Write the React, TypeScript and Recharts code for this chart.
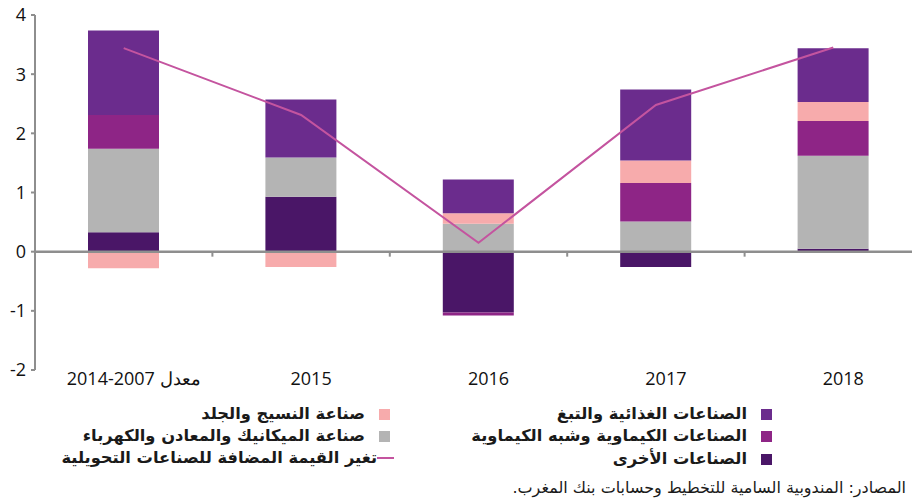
import React from "react";
import { ComposedChart, Bar, Line, XAxis, YAxis, ReferenceLine } from "recharts";

const categories = ["2014-2007 معدل", "2015", "2016", "2017", "2018"];
const otherInd = [0.33, 0.93, -1.03, -0.26, 0.05];
const mechanical = [1.41, 0.66, 0.47, 0.51, 1.57];
const chemical = [0.57, 0, -0.05, 0.65, 0.59];
const textile = [-0.28, -0.26, 0.18, 0.38, 0.32];
const food = [1.43, 0.98, 0.57, 1.2, 0.91];
const valueAdded = [3.44, 2.31, 0.15, 2.48, 3.45];
const yTicks = [-2, -1, 0, 1, 2, 3, 4];

const names = {
  food: "الصناعات الغذائية والتبغ",
  chemical: "الصناعات الكيماوية وشبه الكيماوية",
  other: "الصناعات الأخرى",
  textile: "صناعة النسيج والجلد",
  mechanical: "صناعة الميكانيك والمعادن والكهرباء",
  line: "تغير القيمة المضافة للصناعات التحويلية",
};
const source = "المصادر: المندوبية السامية للتخطيط وحسابات بنك المغرب.";

const colors = {
  food: "#6B2C8D",
  chemical: "#8E2586",
  mechanical: "#B4B4B4",
  textile: "#F7ABAC",
  other: "#4A1667",
  line: "#C4549F",
  axis: "#8E8E8E",
};

const data = categories.map((c, i) => ({
  cat: c,
  other: otherInd[i],
  mechanical: mechanical[i],
  chemical: chemical[i],
  textile: textile[i],
  food: food[i],
  va: valueAdded[i],
}));

const ZeroLine = (props: any) => {
  const { x1, y1, x2, y2 } = props;
  const n = categories.length;
  const step = (x2 - x1) / n;
  const ticks = [];
  for (let i = 1; i < n; i++) {
    const x = x1 + step * i;
    ticks.push(<line key={i} x1={x} x2={x} y1={y1} y2={y1 + 5} stroke={colors.axis} strokeWidth={2} />);
  }
  return (
    <g>
      <line x1={x1} y1={y1} x2={x2} y2={y2} stroke={colors.axis} strokeWidth={2.5} />
      {ticks}
    </g>
  );
};

const arabicFont = "'DejaVu Sans', sans-serif";

const LegendRow = ({ right, top, text, kind, color }: any) => (
  <div
    style={{
      position: "absolute",
      right,
      top,
      height: 22,
      display: "flex",
      flexDirection: "row-reverse",
      alignItems: "center",
      whiteSpace: "nowrap",
    }}
  >
    {kind === "box" ? (
      <div style={{ width: 11, height: 11, background: color, marginLeft: 14 }} />
    ) : (
      <div style={{ width: 17, height: 2, background: color, marginLeft: 0 }} />
    )}
    <div
      style={{
        direction: "rtl",
        fontFamily: arabicFont,
        fontWeight: "bold",
        fontSize: 16.3,
        color: "#1a1a1a",
        lineHeight: "22px",
      }}
    >
      {text}
    </div>
  </div>
);

export default function App() {
  return (
    <div
      style={{
        position: "absolute",
        left: 0,
        top: 0,
        width: 912,
        height: 502,
        overflow: "hidden",
        background: "#fff",
      }}
    >
      <ComposedChart
        width={940}
        height={502}
        data={data}
        stackOffset="sign"
        margin={{ top: 15, right: 18, bottom: 100, left: 0 }}
      >
        <XAxis
          dataKey="cat"
          axisLine={false}
          tickLine={false}
          tickSize={0}
          tickMargin={2}
          height={32}
          interval={0}
          tick={{ fontSize: 18, fill: "#111", fontFamily: "'Open Sans', sans-serif", dx: 10 }}
        />
        <YAxis
          width={35}
          domain={[-2, 4]}
          ticks={yTicks}
          allowDataOverflow
          axisLine={{ stroke: colors.axis, strokeWidth: 2 }}
          tickLine={{ stroke: colors.axis, strokeWidth: 2 }}
          tickSize={4}
          tickMargin={5}
          tick={{ fontSize: 18, fill: "#111", fontFamily: "'Open Sans', sans-serif" }}
        />
        <Bar dataKey="other" stackId="s" fill={colors.other} barSize={71} isAnimationActive={false} />
        <Bar dataKey="mechanical" stackId="s" fill={colors.mechanical} barSize={71} isAnimationActive={false} />
        <Bar dataKey="chemical" stackId="s" fill={colors.chemical} barSize={71} isAnimationActive={false} />
        <Bar dataKey="textile" stackId="s" fill={colors.textile} barSize={71} isAnimationActive={false} />
        <Bar dataKey="food" stackId="s" fill={colors.food} barSize={71} isAnimationActive={false} />
        <ReferenceLine y={0} shape={ZeroLine} />
        <Line
          dataKey="va"
          type="linear"
          stroke={colors.line}
          strokeWidth={2}
          dot={false}
          isAnimationActive={false}
        />
      </ComposedChart>

      <LegendRow right={912 - 772} top={403} text={names.food} kind="box" color={colors.food} />
      <LegendRow right={912 - 772} top={425} text={names.chemical} kind="box" color={colors.chemical} />
      <LegendRow right={912 - 772} top={448} text={names.other} kind="box" color={colors.other} />
      <LegendRow right={912 - 390} top={403} text={names.textile} kind="box" color={colors.textile} />
      <LegendRow right={912 - 390} top={425} text={names.mechanical} kind="box" color={colors.mechanical} />
      <LegendRow right={912 - 394} top={447} text={names.line} kind="line" color={colors.line} />

      <div
        style={{
          position: "absolute",
          right: 6,
          top: 477,
          direction: "rtl",
          fontFamily: arabicFont,
          fontSize: 16,
          color: "#1a1a1a",
          whiteSpace: "nowrap",
          lineHeight: "22px",
        }}
      >
        {source}
      </div>
    </div>
  );
}
